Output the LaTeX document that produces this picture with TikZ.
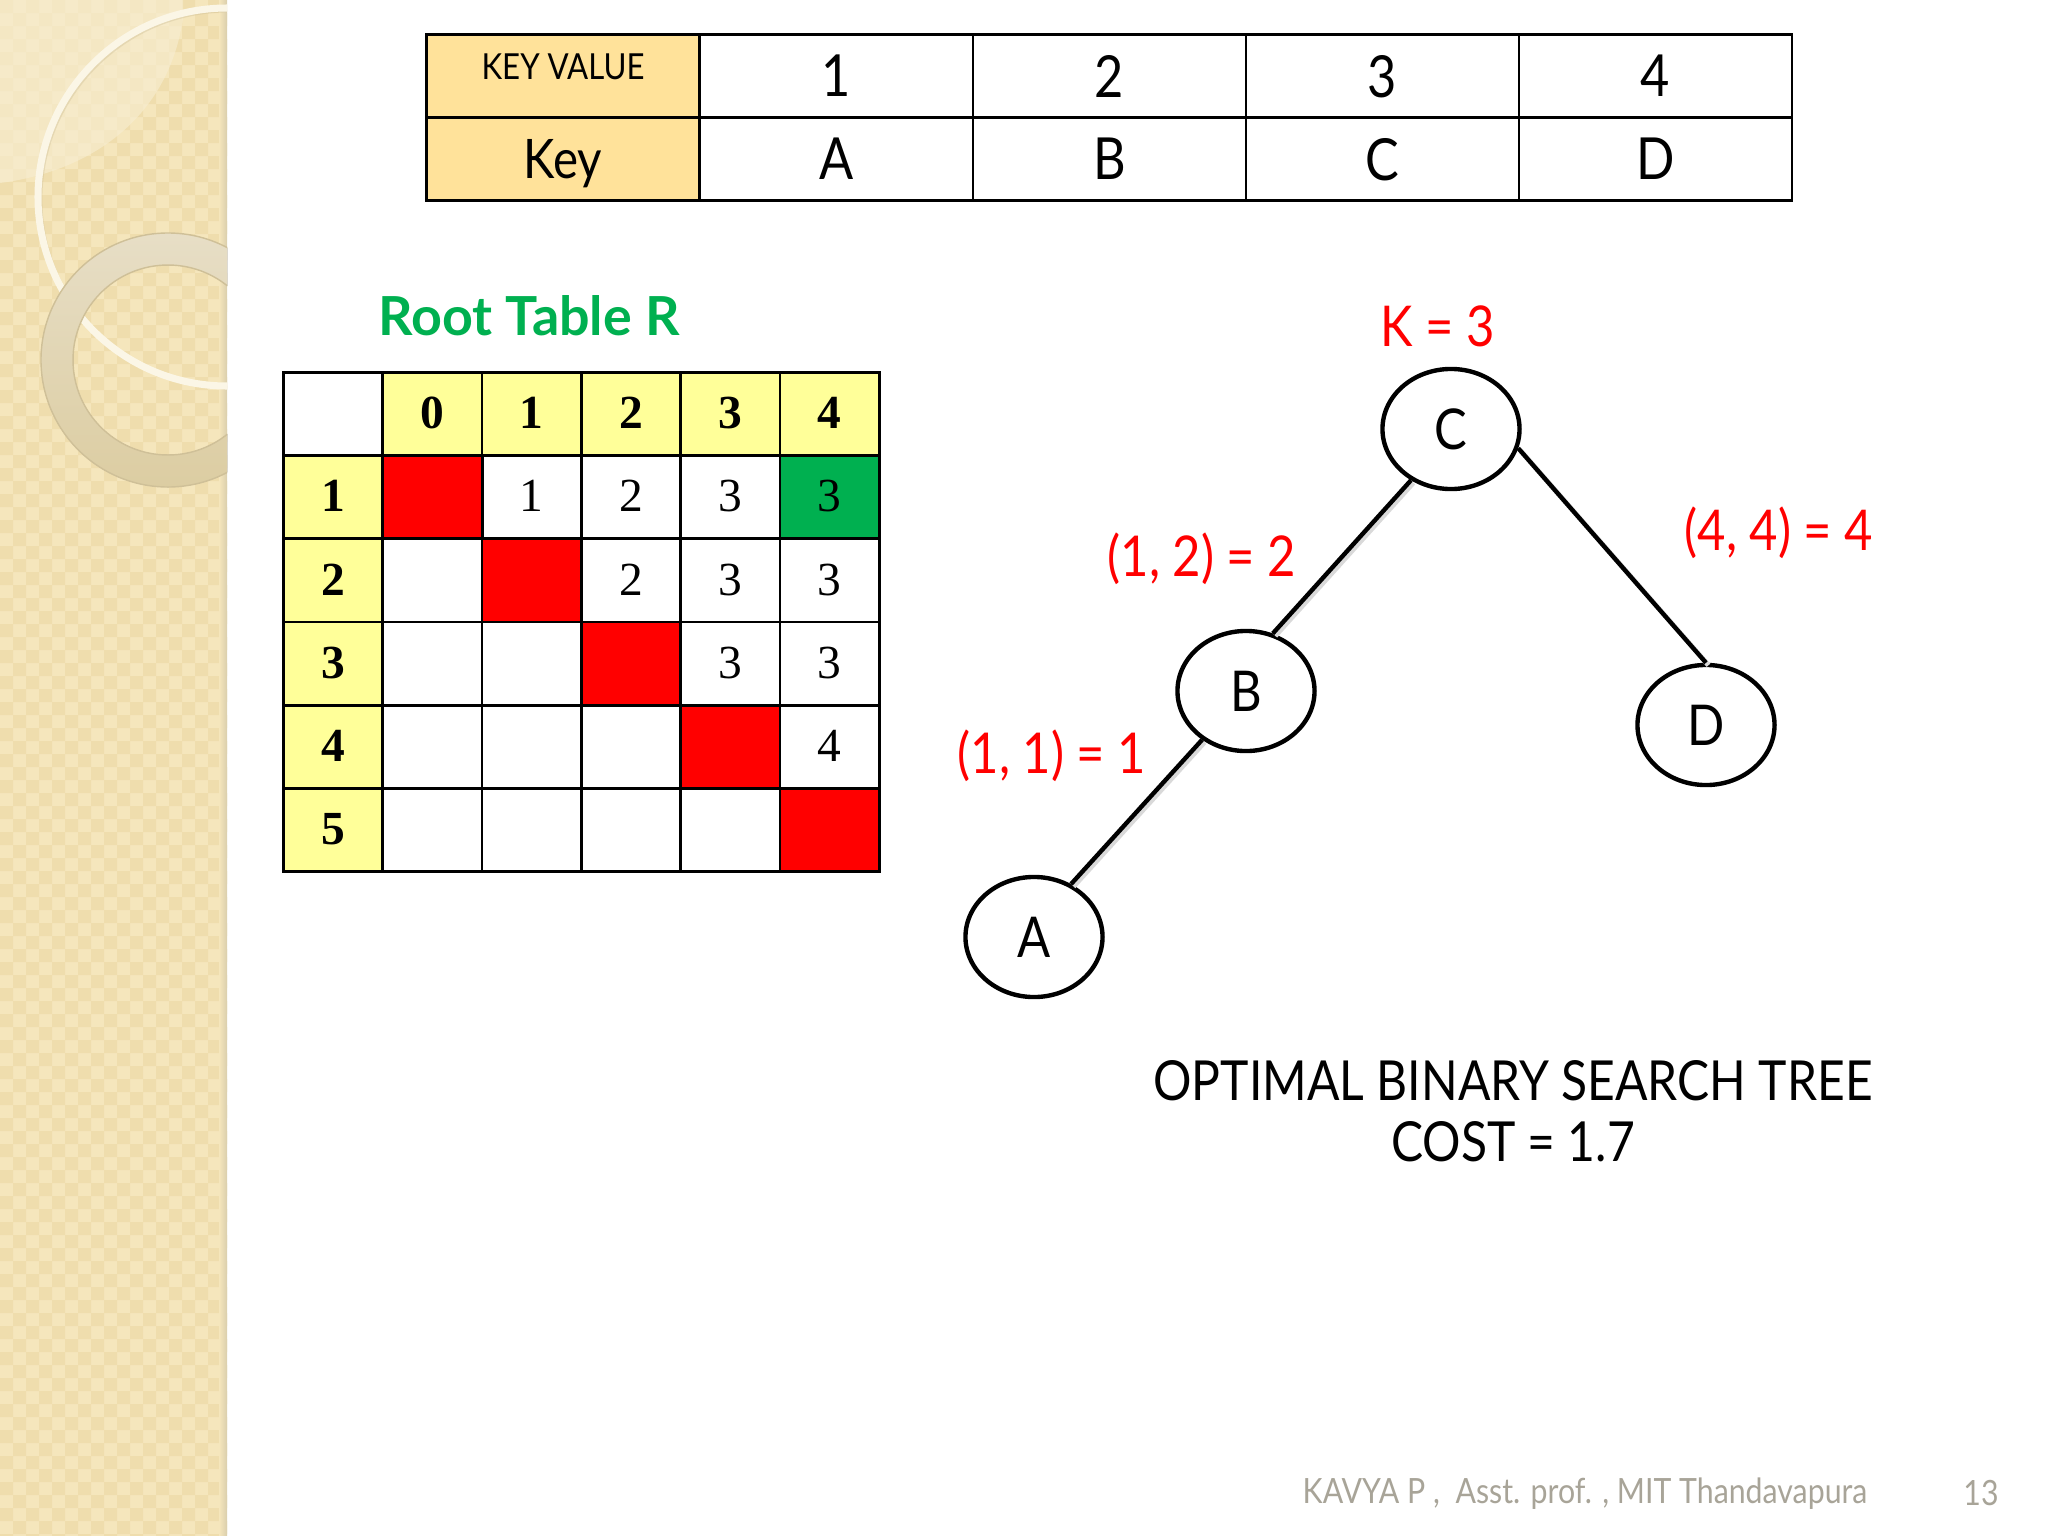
\documentclass[tikz,border=0pt]{standalone}
\usepackage{fontspec}
\setmainfont[FakeStretch=0.87]{Lato}
\newfontfamily\titlefont{Lato}
\newfontfamily\cellfont{Liberation Serif}
\usetikzlibrary{positioning,shapes.geometric,calc}
\definecolor{panelbase}{HTML}{F5E6BC}
\definecolor{panelcheck}{HTML}{EFDDAD}
\definecolor{panelcorner}{HTML}{F7EDD0}
\definecolor{panelring}{HTML}{FBF6E6}
\definecolor{ringtop}{HTML}{E7DEC6}
\definecolor{ringlow}{HTML}{DCCDA2}
\definecolor{ringedge}{HTML}{CFC098}
\definecolor{paneledge}{HTML}{DACEAC}
\definecolor{keyfill}{HTML}{FFE29A}
\definecolor{headfill}{HTML}{FFFF99}
\definecolor{rootgreen}{HTML}{00B050}
\definecolor{footgrey}{HTML}{A8A498}
\tikzset{
  keycell/.style={draw=black,line width=0.75pt,inner sep=0pt,minimum width=2.73cm,minimum height=0.83cm,text depth=0pt,font=\fontsize{16.5}{18}\selectfont},
  rootcell/.style={draw=black,line width=0.75pt,fill=white,inner sep=0pt,minimum width=0.993cm,minimum height=0.83cm,text depth=0.6pt,font=\cellfont\fontsize{13.5}{15}\selectfont},
  headcell/.style={rootcell,fill=headfill,font=\cellfont\bfseries\fontsize{13.5}{15}\selectfont},
  treenode/.style={ellipse,draw=black,line width=1.25pt,fill=white,inner sep=0pt,minimum width=1.37cm,minimum height=1.2cm,font=\fontsize{16}{18}\selectfont},
  treeedge/.style={line width=1.25pt,black,preaction={draw=black!15,line width=1.4pt,transform canvas={shift={(0.7pt,-0.7pt)}}}},
  redlabel/.style={red,font=\fontsize{16}{18}\selectfont},
}
\begin{document}
\begin{tikzpicture}[x=0.01cm,y=-0.01cm]
    \useasboundingbox (0,0) rectangle (2048,1536);
    % Side panel
    \begin{scope}
        \clip (0,0) rectangle (227,1536);
        \fill[panelbase] (0,0) rectangle (227,1536);
        \fill[panelcheck] foreach \i in {0,26,...,234} {foreach \j in {0,26,...,1534} {(\i,\j) rectangle +(13,13) (\i+13,\j+13) rectangle +(13,13)}};
        \fill[left color=panelbase,right color=paneledge] (219,0) rectangle (227,1536);
        % Light corner
        \fill[panelcorner,opacity=0.65] (0,0) -- (183,0) -- (183,18) .. controls (170,110) and (100,170) .. (0,183) -- cycle;
        % Thin ring
        \draw[ringedge,opacity=0.4,line width=0.8pt] (229,199) circle (188);
        \draw[panelring,line width=2pt] (227,197) circle (189);
        % Wide ring
        \fill[even odd rule,top color=ringtop,bottom color=ringlow] (168,360) circle (127) (168,360) circle (95);
        \draw[ringedge,line width=0.4pt] (168,360) circle (127) (168,360) circle (95);
    \end{scope}
    % Key table
    \foreach \col/\valtext/\keytext in {0/1/A,1/2/B,2/3/C,3/4/D} {
        \node[keycell] (val\col) at (836.5+273*\col,76) {\valtext};
        \node[keycell] (key\col) at (836.5+273*\col,159) {\keytext};
    }
    \node[keycell,fill=keyfill,font=\fontsize{10.2}{12}\selectfont] (valhead) at (563,76) {\raisebox{1ex}{KEY VALUE}};
    \node[keycell,fill=keyfill,font=\fontsize{15.5}{18}\selectfont] (keyhead) at (563,159) {Key};
    % Root table
    \node[font=\titlefont\bfseries\fontsize{15.3}{18}\selectfont,rootgreen] (roottitle) at (529,316) {Root Table R};
    \node[rootcell] (corner) at (333,414) {};
    \foreach \col in {0,...,4} {
        \node[headcell] (top\col) at (432.5+99.3*\col,414) {\col};
    }
    \foreach \row in {1,...,5} {
        \node[headcell] (side\row) at (333,414+83.2*\row) {\row};
        \foreach \col in {0,...,4} {
            \node[rootcell] (r\row c\col) at (432.5+99.3*\col,414+83.2*\row) {};
        }
    }
    \node[rootcell,fill=red] (red1) at (r1c0) {};
    \node[rootcell,fill=red] (red2) at (r2c1) {};
    \node[rootcell,fill=red] (red3) at (r3c2) {};
    \node[rootcell,fill=red] (red4) at (r4c3) {};
    \node[rootcell,fill=red] (red5) at (r5c4) {};
    \node[rootcell,fill=rootgreen] (rootcell) at (r1c4) {3};
    \foreach \cellname/\celltext in {r1c1/1,r1c2/2,r1c3/3,r2c2/2,r2c3/3,r2c4/3,r3c3/3,r3c4/3,r4c4/4} {
        \node[text depth=0.6pt] (t\cellname) at (\cellname) {\cellfont\fontsize{13.5}{15}\selectfont\celltext};
    }
    % Tree
    \node[treenode] (C) at (1451,429) {C};
    \node[treenode] (B) at (1246,691) {B};
    \node[treenode] (D) at (1706,725) {D};
    \node[treenode] (A) at (1034,937) {A};
    \draw[treeedge] (C.232) -- (B.65);
    \draw[treeedge] (B.228) -- (A.55);
    \draw[treeedge] (C.-16) -- (D.90);
    \node[redlabel] (rootlabel) at (1438,326) {K = 3};
    \node[redlabel] (leftlabel) at (1202,559) {(1, 2) = 2};
    \node[redlabel] (rightlabel) at (1779,533) {(4, 4) = 4};
    \node[redlabel] (lowlabel) at (1052,756) {(1, 1) = 1};
    % Caption
    \node[align=center,font=\fontsize{15.7}{17.3}\selectfont] (caption) at (1513,1111) {OPTIMAL BINARY SEARCH TREE\\COST = 1.7};
    % Footer
    \node[footgrey,font=\fontsize{9.9}{12}\selectfont] (footer) at (1585,1494) {KAVYA P ,\ \ Asst. prof. , MIT Thandavapura};
    \node[footgrey,font=\fontsize{9.9}{12}\selectfont] (pagenum) at (1981,1493) {13};
\end{tikzpicture}
\end{document}
